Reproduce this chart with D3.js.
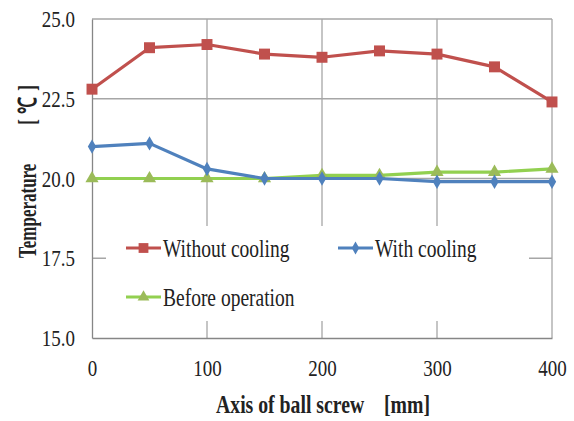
<!DOCTYPE html>
<html><head><meta charset="utf-8">
<script src="https://cdn.jsdelivr.net/npm/d3@7"></script>
<style>body{margin:0;background:#fff}svg{display:block}text{font-family:"Liberation Serif","Times New Roman",serif}</style>
</head><body><svg id="c" width="574" height="421"></svg>
<script>
const positions = [0, 50, 100, 150, 200, 250, 300, 350, 400];
const withoutCooling = [22.8, 24.1, 24.2, 23.9, 23.8, 24.0, 23.9, 23.5, 22.4];
const withCooling = [21.0, 21.1, 20.3, 20.0, 20.0, 20.0, 19.9, 19.9, 19.9];
const beforeOperation = [20.0, 20.0, 20.0, 20.0, 20.1, 20.1, 20.2, 20.2, 20.3];
const xTicks = [0, 100, 200, 300, 400];
const yTicks = [15, 17.5, 20, 22.5, 25];
const seriesNames = ["Without cooling", "With cooling", "Before operation"];

const svg = d3.select("#c");
const L = 92, R = 552, T = 19, B = 338;
const x = d3.scaleLinear().domain([0, 400]).range([L, R]);
const y = d3.scaleLinear().domain([15, 25]).range([B, T]);
const SX = 0.79;

// grid
svg.append("g").selectAll("line").data(yTicks.filter(d => d > 15)).join("line")
  .attr("x1", L).attr("x2", R).attr("y1", d => y(d)).attr("y2", d => y(d))
  .attr("stroke", "#a6a6a6").attr("stroke-width", 1.3);
svg.append("g").selectAll("line").data(xTicks.filter(d => d > 0)).join("line")
  .attr("x1", d => x(d)).attr("x2", d => x(d)).attr("y1", T).attr("y2", B)
  .attr("stroke", "#a6a6a6").attr("stroke-width", 1.3);

// axes
const yAxis = d3.axisLeft(y).tickValues(yTicks).tickFormat(d3.format(".1f")).tickSize(0).tickPadding(17);
const gy = svg.append("g").attr("transform", `translate(${L},0)`).call(yAxis);
const xAxis = d3.axisBottom(x).tickValues(xTicks).tickFormat(d3.format("d")).tickSize(0).tickPadding(21);
const gx = svg.append("g").attr("transform", `translate(0,${B})`).call(xAxis);
[gx, gy].forEach(g => {
  g.attr("font-family", null);
  g.select(".domain").attr("stroke", "#868686").attr("stroke-width", 1.3);
  g.selectAll("text").attr("font-size", 24).attr("fill", "#222")
    .style("font-family", '"Liberation Serif",serif')
    .attr("x", function() { return (+d3.select(this).attr("x") || 0) / SX; })
    .attr("transform", `scale(${SX},1)`);
});

const series = [
  {name: seriesNames[0], vals: withoutCooling, line: "#C0504D", mark: "#C0504D", shape: "square"},
  {name: seriesNames[1], vals: withCooling, line: "#4F81BD", mark: "#4F81BD", shape: "diamond"},
  {name: seriesNames[2], vals: beforeOperation, line: "#92D050", mark: "#9BBB59", shape: "triangle"}
];
const sym = {square: d3.symbolSquare, diamond: d3.symbolDiamond, triangle: d3.symbolTriangle};
const size = {square: 120, diamond: 60, triangle: 75};

const line = d3.line().x((d, i) => x(positions[i])).y(d => y(d));
[series[2], series[1], series[0]].forEach(s => {
  svg.append("path").datum(s.vals).attr("d", line).attr("fill", "none")
    .attr("stroke", s.line).attr("stroke-width", 3.2).attr("stroke-linejoin", "round");
  svg.append("g").selectAll("path").data(s.vals).join("path")
    .attr("transform", (d, i) => `translate(${x(positions[i])},${y(d)})`)
    .attr("d", d3.symbol().type(sym[s.shape]).size(size[s.shape]))
    .attr("fill", s.mark);
});

// legend
const lg = svg.append("g");
lg.append("rect").attr("x", 106).attr("y", 226).attr("width", 423).attr("height", 95).attr("fill", "#fff");
const legPos = [[126, 248], [338, 248], [126, 297]];
series.forEach((s, i) => {
  const [lx, ly] = legPos[i];
  lg.append("line").attr("x1", lx).attr("x2", lx + 35).attr("y1", ly).attr("y2", ly)
    .attr("stroke", s.line).attr("stroke-width", 3.2);
  lg.append("path").attr("transform", `translate(${lx + 17.5},${ly})`)
    .attr("d", d3.symbol().type(sym[s.shape]).size(size[s.shape] * 0.8)).attr("fill", s.mark);
  lg.append("text").attr("transform", `translate(${lx + 37},${ly}) scale(0.78,1)`).attr("dy", "0.35em")
    .attr("font-size", 25).attr("fill", "#222").text(s.name);
});

// titles
svg.append("text").attr("transform", `translate(323,413) scale(${SX},1)`).attr("text-anchor", "middle")
  .attr("font-size", 25).attr("font-weight", "bold").attr("fill", "#222").attr("xml:space", "preserve")
  .text("Axis of ball screw    [mm]");
const yt = svg.append("g").attr("font-size", 25).attr("font-weight", "bold").attr("fill", "#222");
yt.append("text").attr("transform", "translate(36,258) rotate(-90) scale(0.68,1)")
  .attr("text-anchor", "start").text("Temperature");
yt.append("text").attr("transform", "translate(36,122) rotate(-90) scale(0.68,1)")
  .attr("text-anchor", "middle").text("[");
yt.append("text").attr("transform", "translate(36,106) rotate(-90) scale(0.68,1)")
  .attr("text-anchor", "middle").text("℃");
yt.append("text").attr("transform", "translate(36,88) rotate(-90) scale(0.68,1)")
  .attr("text-anchor", "middle").text("]");
</script></body></html>
